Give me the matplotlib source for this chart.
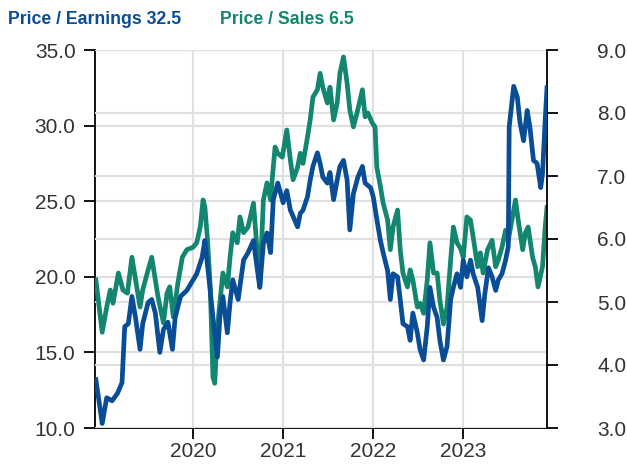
import matplotlib
matplotlib.use("Agg")
import matplotlib.pyplot as plt

plt.rcParams["font.family"] = ["Liberation Sans", "DejaVu Sans"]

# price / earnings (left axis), sampled off the chart in decimal years
pe_years = [2018.92, 2018.99, 2019.04, 2019.10, 2019.16, 2019.21, 2019.24, 2019.28, 2019.32, 2019.36,
            2019.41, 2019.44, 2019.50, 2019.54, 2019.58, 2019.63, 2019.67, 2019.72, 2019.77, 2019.80,
            2019.86, 2019.93, 2020.00, 2020.04, 2020.10, 2020.13, 2020.17, 2020.22, 2020.27, 2020.30,
            2020.33, 2020.38, 2020.41, 2020.44, 2020.50, 2020.56, 2020.61, 2020.67, 2020.71, 2020.74,
            2020.78, 2020.82, 2020.86, 2020.89, 2020.94, 2021.00, 2021.04, 2021.08, 2021.11, 2021.16,
            2021.19, 2021.22, 2021.27, 2021.30, 2021.33, 2021.38, 2021.41, 2021.44, 2021.49, 2021.52,
            2021.56, 2021.60, 2021.63, 2021.67, 2021.71, 2021.74, 2021.78, 2021.83, 2021.88, 2021.91,
            2021.97, 2022.00, 2022.04, 2022.08, 2022.11, 2022.16, 2022.19, 2022.22, 2022.27, 2022.30,
            2022.33, 2022.38, 2022.41, 2022.44, 2022.49, 2022.52, 2022.56, 2022.60, 2022.63, 2022.67,
            2022.71, 2022.74, 2022.78, 2022.82, 2022.86, 2022.89, 2022.93, 2022.97, 2023.00, 2023.04,
            2023.08, 2023.11, 2023.16, 2023.21, 2023.24, 2023.28, 2023.32, 2023.36, 2023.39, 2023.43,
            2023.47, 2023.50, 2023.51, 2023.56, 2023.60, 2023.63, 2023.67, 2023.71, 2023.74, 2023.78,
            2023.82, 2023.86, 2023.88, 2023.91, 2023.93]
pe_values = [13.2, 10.3, 12.0, 11.8, 12.3, 13.0, 16.7, 16.9, 18.7, 17.3,
             15.2, 16.9, 18.3, 18.5, 17.6, 15.0, 16.5, 17.0, 15.2, 17.3,
             18.7, 19.1, 19.8, 20.2, 21.3, 22.4, 20.2, 17.3, 14.7, 17.6,
             18.7, 16.3, 18.3, 19.8, 18.5, 21.1, 21.6, 22.4, 20.6, 19.3,
             22.2, 22.9, 21.6, 25.1, 26.2, 24.9, 25.7, 24.4, 24.0, 23.3,
             24.2, 24.4, 25.3, 26.4, 27.3, 28.2, 27.5, 26.6, 26.2, 26.9,
             25.1, 26.4, 27.3, 27.7, 26.4, 23.1, 25.5, 26.6, 27.3, 26.2,
             25.9, 25.3, 23.8, 22.4, 21.6, 20.4, 18.5, 20.2, 20.0, 18.5,
             16.9, 16.7, 15.8, 17.6, 16.3, 15.2, 14.5, 16.7, 19.3, 18.0,
             17.3, 15.8, 14.5, 15.4, 18.5, 19.3, 20.2, 19.3, 21.1, 20.0,
             21.1, 20.2, 19.3, 17.1, 18.9, 20.6, 20.0, 19.1, 19.8, 20.2,
             21.1, 22.0, 29.9, 32.6, 31.9, 30.2, 29.0, 31.0, 29.9, 27.7,
             27.5, 25.9, 26.8, 30.4, 32.5]

# price / sales (right axis)
ps_years = [2018.92, 2018.99, 2019.04, 2019.08, 2019.11, 2019.17, 2019.22, 2019.27, 2019.32, 2019.38,
            2019.41, 2019.44, 2019.50, 2019.54, 2019.58, 2019.61, 2019.67, 2019.71, 2019.74, 2019.78,
            2019.83, 2019.88, 2019.93, 2020.00, 2020.04, 2020.08, 2020.11, 2020.13, 2020.16, 2020.19,
            2020.22, 2020.24, 2020.27, 2020.30, 2020.33, 2020.38, 2020.41, 2020.44, 2020.49, 2020.52,
            2020.56, 2020.61, 2020.67, 2020.71, 2020.74, 2020.78, 2020.82, 2020.86, 2020.88, 2020.91,
            2020.94, 2020.99, 2021.04, 2021.08, 2021.11, 2021.16, 2021.19, 2021.22, 2021.27, 2021.30,
            2021.33, 2021.38, 2021.41, 2021.44, 2021.49, 2021.52, 2021.56, 2021.60, 2021.63, 2021.67,
            2021.71, 2021.74, 2021.78, 2021.82, 2021.88, 2021.91, 2021.94, 2021.99, 2022.02, 2022.04,
            2022.08, 2022.11, 2022.16, 2022.19, 2022.22, 2022.27, 2022.30, 2022.33, 2022.38, 2022.41,
            2022.44, 2022.49, 2022.52, 2022.56, 2022.60, 2022.63, 2022.67, 2022.71, 2022.74, 2022.78,
            2022.82, 2022.86, 2022.89, 2022.93, 2022.97, 2023.00, 2023.04, 2023.08, 2023.11, 2023.16,
            2023.19, 2023.22, 2023.27, 2023.32, 2023.36, 2023.39, 2023.43, 2023.47, 2023.50, 2023.54,
            2023.58, 2023.61, 2023.66, 2023.69, 2023.72, 2023.77, 2023.80, 2023.83, 2023.88, 2023.91,
            2023.93]
ps_values = [5.35, 4.52, 4.92, 5.19, 4.98, 5.46, 5.19, 5.14, 5.71, 5.19,
             4.92, 5.19, 5.51, 5.71, 5.35, 5.08, 4.67, 5.14, 5.24, 4.76,
             5.30, 5.71, 5.83, 5.87, 5.94, 6.20, 6.62, 6.51, 5.98, 5.24,
             3.81, 3.71, 4.60, 5.03, 5.46, 5.24, 5.71, 6.10, 5.94, 6.35,
             6.10, 6.19, 6.57, 5.83, 5.24, 6.62, 6.89, 6.62, 6.98, 7.46,
             7.36, 7.30, 7.73, 7.25, 6.94, 7.14, 7.36, 7.20, 7.62, 7.89,
             8.25, 8.37, 8.63, 8.41, 8.16, 8.41, 7.89, 8.16, 8.63, 8.89,
             8.47, 8.05, 7.78, 8.00, 8.37, 7.94, 8.00, 7.84, 7.78, 7.14,
             6.83, 6.57, 6.30, 5.83, 6.19, 6.46, 5.83, 5.46, 5.24, 5.51,
             5.35, 4.92, 4.98, 4.82, 5.35, 5.94, 5.46, 5.46, 5.03, 4.65,
             4.92, 5.67, 6.19, 5.94, 5.85, 5.71, 6.35, 6.30, 6.03, 5.56,
             5.78, 5.46, 5.83, 5.98, 5.56, 5.67, 5.87, 6.14, 5.98, 6.30,
             6.62, 6.30, 5.83, 6.10, 6.19, 5.71, 5.56, 5.24, 5.56, 6.19,
             6.50]

pe_ticks = [10, 15, 20, 25, 30, 35]
ps_ticks = [3, 4, 5, 6, 7, 8, 9]
year_ticks = [2020, 2021, 2022, 2023]

blue = "#0a4d97"
green = "#12866f"
grid_c = "#e0e0e0"
label_c = "#333333"

fig = plt.figure(figsize=(6.27, 4.67), dpi=100)
ax = fig.add_axes([95 / 627, 39 / 467, 452 / 627, 378 / 467])
ax2 = ax.twinx()
ax3 = ax.twinx()

# left axis: P/E gridlines + year gridlines
ax.set_ylim(10, 35)
ax.set_xlim(2018.91, 2023.93)
ax.set_yticks(pe_ticks)
ax.set_yticklabels([f"{t:.1f}" for t in pe_ticks])
ax.set_xticks(year_ticks)
ax.set_xticklabels([str(y) for y in year_ticks])
ax.grid(True, color=grid_c, lw=1.5)
ax.set_axisbelow(True)

# right axis: P/S
ax2.set_ylim(3, 9)
ax2.set_yticks(ps_ticks)
ax2.set_yticklabels([f"{t:.1f}" for t in ps_ticks])
ax2.grid(True, axis="y", color=grid_c, lw=1.5)
ax2.set_axisbelow(True)
ax2.plot(ps_years, ps_values, color=green, lw=3.4, solid_joinstyle="round")

# P/E line on top of everything
ax3.set_ylim(10, 35)
ax3.axis("off")
ax3.plot(pe_years, pe_values, color=blue, lw=3.4, solid_joinstyle="round")

for a in (ax, ax2):
    a.spines["top"].set_visible(False)
    for s in a.spines.values():
        s.set_linewidth(1.3)
        s.set_color("black")
ax.spines["right"].set_visible(False)
ax2.spines["left"].set_visible(False)
ax2.spines["bottom"].set_visible(False)

ax.tick_params(axis="both", direction="out", length=8, width=1.3, labelsize=15, labelcolor=label_c)
ax.tick_params(axis="y", pad=6)
ax.tick_params(axis="x", pad=2)
ax2.tick_params(axis="y", direction="out", length=8, width=1.3, labelsize=15,
                labelcolor=label_c, pad=28)

fig.text(8 / 627, 1 - 24 / 467, "Price / Earnings 32.5", color=blue, fontsize=12.7,
         fontweight="bold", va="baseline")
fig.text(220 / 627, 1 - 24 / 467, "Price / Sales 6.5", color=green, fontsize=12.7,
         fontweight="bold", va="baseline")

fig.savefig("out.png", dpi=100)
